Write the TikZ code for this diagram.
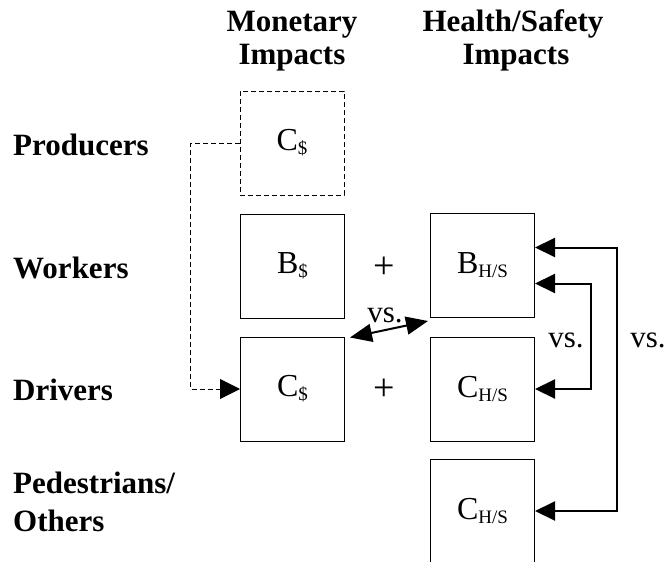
\documentclass[tikz,border=0pt]{standalone}
\usepackage{fontspec}
\setmainfont{Liberation Serif}
\usetikzlibrary{arrows.meta}
\newcommand{\subtxt}[1]{\raisebox{-4pt}{\fontsize{19}{20}\selectfont #1}}
\begin{document}
\begin{tikzpicture}[x=1pt,y=-1pt,
  boxst/.style={draw,line width=1pt,minimum width=104pt,minimum height=104pt,inner sep=0pt,font=\fontsize{32}{36}\selectfont},
  dashbox/.style={boxst,dash pattern=on 5pt off 3pt},
  lbl/.style={anchor=base west,inner sep=0pt,font=\fontsize{31}{35}\selectfont\bfseries},
  head/.style={anchor=base,inner sep=0pt,font=\fontsize{31}{35}\selectfont\bfseries},
  txt/.style={anchor=base,inner sep=0pt,font=\fontsize{31}{35}\selectfont},
  plus/.style={inner sep=0pt,font=\fontsize{38}{40}\selectfont},
  arr/.style={line width=2pt,{Triangle[length=20pt,width=19pt]}-{Triangle[length=20pt,width=19pt]}}
]
\useasboundingbox (0,0) rectangle (665,562);
\clip (0,0) rectangle (665,562);

% headings
\node[head] (h1a) at (292,31) {Monetary};
\node[head] (h1b) at (292,64) {Impacts};
\node[head] (h2a) at (513,31) {Health/Safety};
\node[head] (h2b) at (516,64) {Impacts};

% row labels
\node[lbl] (rp) at (13,155) {Producers};
\node[lbl] (rw) at (13,278) {Workers};
\node[lbl] (rd) at (13,400) {Drivers};
\node[lbl] (ro1) at (13,493) {Pedestrians/};
\node[lbl] (ro2) at (13,531) {Others};

% boxes
\node[dashbox] (pc) at (292,143) {C\subtxt{\$}};
\node[boxst] (wb) at (292.5,266) {B\subtxt{\$}};
\node[boxst] (cd) at (292.5,389) {C\subtxt{\$}};
\node[boxst] (bhs) at (482.5,265.5) {B\subtxt{H/S}};
\node[boxst] (chs) at (482.5,389) {C\subtxt{H/S}};
\node[boxst] (ohs) at (482.5,511) {C\subtxt{H/S}};

% plus signs
\node[plus] (p1) at (384,268) {+};
\node[plus] (p2) at (384,390) {+};

% dashed connector
\draw[line width=1pt,dash pattern=on 5pt off 3pt,-{Triangle[length=20pt,width=20pt]}]
  (pc.west) -- ++(-49,0) |- (cd.west);

% double arrow between C$ and B_H/S
\draw[line width=2pt,{Triangle[length=22pt,width=18pt]}-{Triangle[length=22pt,width=18pt]}]
  ([shift={(5,1)}]cd.north east) -- ([shift={(-2,3)}]bhs.south west);
\node[txt] (v1) at (385,322) {vs.};

% right connectors
\draw[arr] ([yshift=-18pt]bhs.east) -- ++(56,0) |- (chs.east);
\draw[arr] ([yshift=18pt]bhs.east) -- ++(82,0) |- (ohs.east);
\node[txt] (v2) at (566,347) {vs.};
\node[txt] (v3) at (648,347) {vs.};
\end{tikzpicture}
\end{document}
